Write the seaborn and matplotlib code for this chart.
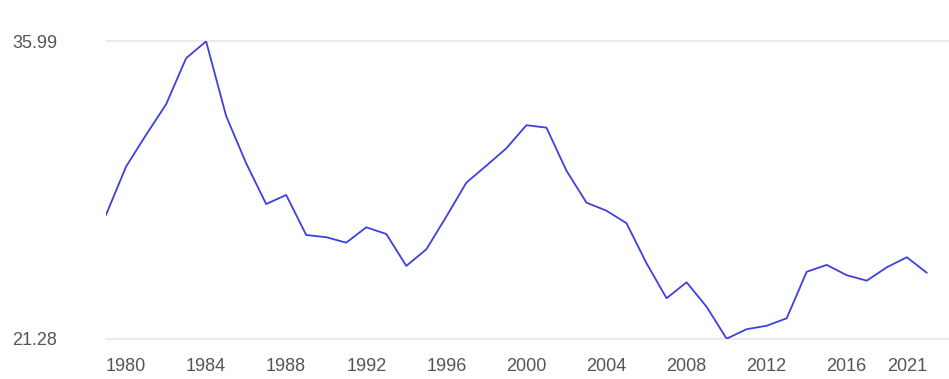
import matplotlib
matplotlib.use("Agg")
import matplotlib.pyplot as plt
import seaborn as sns
import pandas as pd

years = list(range(1979, 2021))
values = [27.40, 29.79, 31.36, 32.87, 35.15, 35.99, 32.30, 29.96, 27.94, 28.39,
          26.41, 26.30, 26.03, 26.79, 26.46, 24.88, 25.70, 27.32, 29.00, 29.84,
          30.70, 31.84, 31.72, 29.59, 28.01, 27.61, 26.99, 25.01, 23.28, 24.07,
          22.86, 21.28, 21.75, 21.92, 22.29, 24.59, 24.93, 24.42, 24.15, 24.81,
          25.31, 24.54]
y_ticks = [21.28, 35.99]
y_tick_labels = ["21.28", "35.99"]
x_tick_years = [1980, 1984, 1988, 1992, 1996, 2000, 2004, 2008, 2012, 2016, 2020]
x_tick_labels = ["1980", "1984", "1988", "1992", "1996", "2000", "2004", "2008",
                 "2012", "2016", "2021"]

df = pd.DataFrame({"year": years, "value": values})

sns.set_theme(style="white")
plt.rcParams["font.family"] = ["Liberation Sans", "DejaVu Sans"]

W, H = 949, 379
fig = plt.figure(figsize=(W / 100, H / 100), dpi=100)
ax = fig.add_axes([106 / W, 40.3 / H, (W - 106) / W, (338.7 - 41.3) / H])

for yv in y_ticks:
    ax.axhline(yv, color="#e8e8e8", linewidth=1.2, zorder=0, clip_on=False)

sns.lineplot(data=df, x="year", y="value", ax=ax, color="#3f3fe0", linewidth=1.3)

ax.set_xlim(1979, 1979 + (W - 106) / 20.02)
ax.set_ylim(y_ticks[0], y_ticks[1])
ax.set_yticks(y_ticks)
ax.set_yticklabels(y_tick_labels)
ax.set_xticks(x_tick_years)
ax.set_xticklabels(x_tick_labels)
ax.get_xticklabels()[-1].set_horizontalalignment("right")

for s in ax.spines.values():
    s.set_visible(False)
ax.tick_params(axis="y", length=0, pad=35, labelsize=13, labelcolor="#555555")
ax.tick_params(axis="x", length=0, pad=14, labelsize=13, labelcolor="#555555")
ax.set_xlabel("")
ax.set_ylabel("")
ax.grid(False)

fig.savefig("out.png", dpi=100)
